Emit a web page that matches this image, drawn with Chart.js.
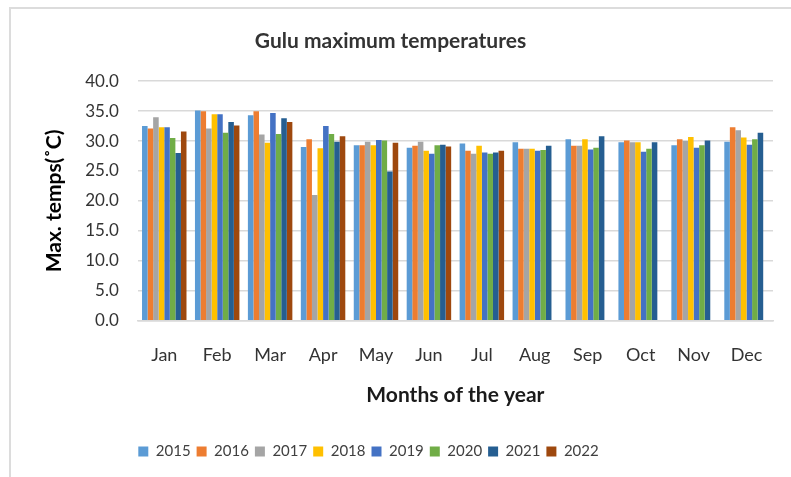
<!DOCTYPE html>
<html>
<head>
<meta charset="utf-8">
<script src="https://cdn.jsdelivr.net/npm/chart.js@4"></script>
<style>
  body { margin: 0; background: #fff; }
  #wrap { position: relative; width: 791px; height: 477px; }
  #frame { position: absolute; left: 9px; top: 7px; right: 0; bottom: 0;
           border-top: 2px solid #dcdcdc; border-left: 2px solid #dcdcdc; }
</style>
</head>
<body>
<div id="wrap">
  <div id="frame"></div>
  <canvas id="myChart" width="791" height="477"></canvas>
</div>
<script>
const months = ['Jan', 'Feb', 'Mar', 'Apr', 'May', 'Jun', 'Jul', 'Aug', 'Sep', 'Oct', 'Nov', 'Dec'];
const years = ['2015', '2016', '2017', '2018', '2019', '2020', '2021', '2022'];
const colors = ['#5B9BD5', '#ED7D31', '#A5A5A5', '#FFC000', '#4472C4', '#70AD47', '#255E91', '#9E480E'];

const t2015 = [32.5, 35.1, 34.3, 29.0, 29.3, 28.9, 29.6, 29.8, 30.3, 29.8, 29.3, 29.9];
const t2016 = [32.1, 35.0, 35.0, 30.3, 29.3, 29.2, 28.4, 28.7, 29.2, 30.1, 30.3, 32.3];
const t2017 = [34.0, 32.1, 31.1, 21.0, 29.9, 29.9, 27.9, 28.7, 29.2, 29.8, 30.0, 31.8];
const t2018 = [32.3, 34.5, 29.7, 28.8, 29.3, 28.4, 29.2, 28.7, 30.3, 29.8, 30.7, 30.6];
const t2019 = [32.3, 34.5, 34.7, 32.5, 30.2, 27.9, 28.1, 28.4, 28.6, 28.2, 28.9, 29.4];
const t2020 = [30.5, 31.4, 31.2, 31.2, 30.1, 29.3, 27.9, 28.5, 28.9, 28.7, 29.3, 30.3];
const t2021 = [28.0, 33.2, 33.8, 29.9, 24.9, 29.4, 28.1, 29.2, 30.8, 29.8, 30.1, 31.4];
const t2022 = [31.6, 32.6, 33.2, 30.8, 29.7, 29.1, 28.4, null, null, null, null, null];

const series = [t2015, t2016, t2017, t2018, t2019, t2020, t2021, t2022];
const yTicks = [0, 5, 10, 15, 20, 25, 30, 35, 40];

const font = 'Lato, "Open Sans", sans-serif';

// title and legend sit a bit left of centre in the original
const nudge = {
  id: 'nudge',
  afterLayout(chart) {
    chart.legend.left -= 30;
    chart.legend.right -= 30;
    chart.titleBlock.left -= 8;
    chart.titleBlock.right -= 8;
  },
};

new Chart('myChart', {
  type: 'bar',
  data: {
    labels: months,
    datasets: years.map((y, i) => ({
      label: y,
      data: series[i],
      backgroundColor: colors[i],
      barPercentage: 1,
      categoryPercentage: 0.84,
    })),
  },
  plugins: [nudge],
  options: {
    responsive: false,
    animation: false,
    layout: { padding: { top: 29, left: 24, right: 18, bottom: 8 } },
    plugins: {
      title: {
        display: true,
        text: 'Gulu maximum temperatures',
        color: '#333',
        font: { family: font, size: 21, weight: 'bold' },
        padding: { top: 0, bottom: 27 },
      },
      legend: {
        position: 'bottom',
        labels: {
          color: '#404040',
          font: { family: font, size: 15 },
          boxWidth: 10,
          boxHeight: 10,
          padding: 6,
        },
      },
      tooltip: { enabled: false },
    },
    scales: {
      x: {
        grid: { display: false, drawTicks: false },
        border: { color: '#d9d9d9', width: 1.5 },
        ticks: { color: '#333', font: { family: font, size: 18 }, padding: 24 },
        title: {
          display: true,
          text: 'Months of the year',
          color: '#1a1a1a',
          font: { family: font, size: 21, weight: 'bold' },
          padding: { top: -8, bottom: 30.5 },
        },
      },
      y: {
        min: 0,
        max: 40,
        afterBuildTicks: (axis) => { axis.ticks = yTicks.map(v => ({ value: v })); },
        grid: { color: '#d9d9d9', lineWidth: 1.5, drawTicks: false },
        border: { display: false },
        ticks: {
          color: '#333',
          font: { family: font, size: 17 },
          padding: 19,
          callback: (v) => v.toFixed(1),
        },
        title: {
          display: true,
          text: 'Max. temps(˚C)',
          color: '#000',
          font: { family: font, size: 21, weight: 'bold' },
          padding: { top: 18, bottom: -1 },
        },
      },
    },
  },
});
</script>
</body>
</html>
